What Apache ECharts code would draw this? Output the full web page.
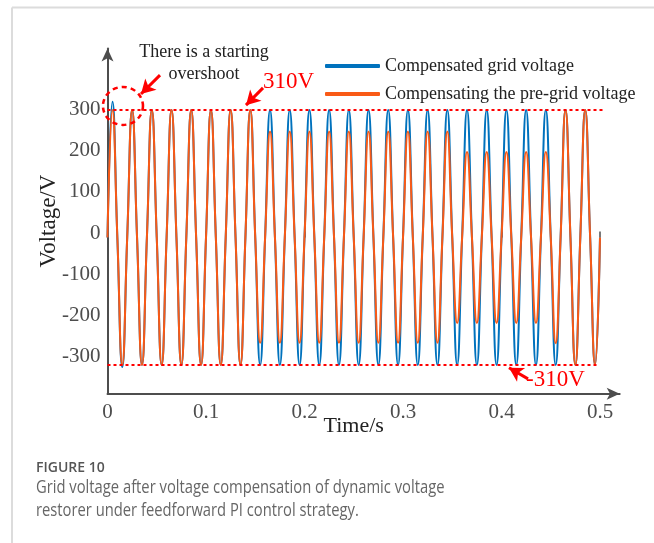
<!DOCTYPE html>
<html>
<head>
<meta charset="utf-8">
<script src="https://cdn.jsdelivr.net/npm/echarts@6/dist/echarts.min.js"></script>
<style>
  html, body { margin: 0; padding: 0; background: #fff; }
  #main { width: 654px; height: 543px; }
</style>
</head>
<body>
<div id="main"></div>
<script>
// sample times in s (zero crossings and peaks of the 50 Hz wave)
var times = [
  0, 0.005, 0.01, 0.015, 0.02, 0.025, 0.03, 0.035, 0.04, 0.045, 0.05, 0.055, 0.06, 0.065, 0.07, 0.075, 0.08, 0.085, 0.09, 0.095,
  0.1, 0.105, 0.11, 0.115, 0.12, 0.125, 0.13, 0.135, 0.14, 0.145, 0.15, 0.155, 0.16, 0.165, 0.17, 0.175, 0.18, 0.185, 0.19, 0.195,
  0.2, 0.205, 0.21, 0.215, 0.22, 0.225, 0.23, 0.235, 0.24, 0.245, 0.25, 0.255, 0.26, 0.265, 0.27, 0.275, 0.28, 0.285, 0.29, 0.295,
  0.3, 0.305, 0.31, 0.315, 0.32, 0.325, 0.33, 0.335, 0.34, 0.345, 0.35, 0.355, 0.36, 0.365, 0.37, 0.375, 0.38, 0.385, 0.39, 0.395,
  0.4, 0.405, 0.41, 0.415, 0.42, 0.425, 0.43, 0.435, 0.44, 0.445, 0.45, 0.455, 0.46, 0.465, 0.47, 0.475, 0.48, 0.485, 0.49, 0.495,
  0.5
];
// compensated grid voltage (V)
var compensated = [
  0, 330, 0, -315, 0, 310, 0, -310, 0, 310, 0, -310, 0, 310, 0, -310, 0, 310, 0, -310,
  0, 310, 0, -310, 0, 310, 0, -310, 0, 310, 0, -310, 0, 310, 0, -310, 0, 310, 0, -310,
  0, 310, 0, -310, 0, 310, 0, -310, 0, 310, 0, -310, 0, 310, 0, -310, 0, 310, 0, -310,
  0, 310, 0, -310, 0, 310, 0, -310, 0, 310, 0, -310, 0, 310, 0, -310, 0, 310, 0, -310,
  0, 310, 0, -310, 0, 310, 0, -310, 0, 310, 0, -310, 0, 310, 0, -310, 0, 310, 0, -310,
  0
];
// grid voltage before compensation (V)
var preGrid = [
  0, 310, 0, -310, 0, 310, 0, -310, 0, 310, 0, -310, 0, 310, 0, -310, 0, 310, 0, -310,
  0, 310, 0, -310, 0, 310, 0, -310, 0, 310, 0, -256, 0, 258, 0, -256, 0, 258, 0, -256,
  0, 258, 0, -256, 0, 258, 0, -256, 0, 258, 0, -256, 0, 258, 0, -256, 0, 258, 0, -256,
  0, 258, 0, -256, 0, 258, 0, -256, 0, 258, 0, -208, 0, 208, 0, -208, 0, 208, 0, -208,
  0, 208, 0, -208, 0, 208, 0, -208, 0, 208, 0, -257, 0, 310, 0, -310, 0, 310, 0, -310,
  0
];
var names = ['Compensated grid voltage', 'Compensating the pre-grid voltage'];
var xTicks = [0, 0.1, 0.2, 0.3, 0.4, 0.5];
var yTicks = [-300, -200, -100, 0, 100, 200, 300];

var serif = 'Liberation Serif';
var myChart = echarts.init(document.getElementById('main'));

function pairs(vals) {
  return times.map(function (t, i) { return [t, vals[i]]; });
}

var option = {
  animation: false,
  backgroundColor: '#fff',
  grid: [
    { left: 107.5, right: 34.3, top: 48.4, bottom: 149.3 },
    { left: 107.5, right: 54, top: 48.4, bottom: 149.3 }
  ],
  legend: [
    {
      data: [names[0]], left: 320, top: 52, itemWidth: 55, itemHeight: 4, icon: 'roundRect',
      textStyle: { fontFamily: serif, fontSize: 18, color: '#222' }
    },
    {
      data: [names[1]], left: 320, top: 80, itemWidth: 55, itemHeight: 4, icon: 'roundRect',
      textStyle: { fontFamily: serif, fontSize: 18, color: '#222' }
    }
  ],
  xAxis: [
    {
      gridIndex: 0, type: 'value', min: 0, max: 0.52,
      axisLine: { onZero: false, symbol: ['none', 'arrow'], symbolSize: [9, 13], lineStyle: { color: '#4d4d4d', width: 2 } },
      axisTick: { show: false }, axisLabel: { show: false }, splitLine: { show: false }
    },
    {
      gridIndex: 1, type: 'value', min: xTicks[0], max: xTicks[xTicks.length - 1], interval: 0.1,
      axisLine: { show: false },
      axisTick: { inside: true, length: 6, lineStyle: { color: '#4d4d4d', width: 1.5 } },
      axisLabel: { margin: 8, fontFamily: serif, fontSize: 21, color: '#4d4d4d' },
      splitLine: { show: false },
      name: 'Time/s', nameLocation: 'middle', nameGap: 22, nameMoveOverlap: false,
      nameTextStyle: { fontFamily: serif, fontSize: 22, color: '#222' }
    }
  ],
  yAxis: [
    {
      gridIndex: 0, type: 'value', min: -380, max: 460, interval: 20,
      axisLine: { show: true, onZero: false, symbol: ['none', 'arrow'], symbolSize: [9, 13], lineStyle: { color: '#4d4d4d', width: 2 } },
      axisTick: { show: false },
      axisLabel: {
        margin: 7, fontFamily: serif, fontSize: 21, color: '#4d4d4d', verticalAlign: 'bottom', lineHeight: 9,
        formatter: function (v) { return yTicks.indexOf(v) >= 0 ? String(v) : ''; }
      },
      splitLine: { show: false },
      name: 'Voltage/V', nameLocation: 'middle', nameGap: 47, nameMoveOverlap: false,
      nameTextStyle: { fontFamily: serif, fontSize: 23, color: '#222' }
    },
    { gridIndex: 1, type: 'value', min: -380, max: 460, show: false, splitLine: { show: false } }
  ],
  series: [
    {
      name: names[0], type: 'line', xAxisIndex: 0, yAxisIndex: 0,
      data: pairs(compensated), smooth: true, showSymbol: false, clip: false,
      color: '#0072BD', lineStyle: { width: 2 },
      markLine: {
        silent: true, symbol: ['none', 'none'], label: { show: false },
        lineStyle: { color: '#ff0000', type: [3, 3], width: 2 },
        data: [
          [{ coord: [0, 310] }, { coord: [0.503, 310] }],
          [{ coord: [0, -310] }, { coord: [0.498, -310] }]
        ]
      }
    },
    {
      name: names[1], type: 'line', xAxisIndex: 0, yAxisIndex: 0,
      data: pairs(preGrid), smooth: true, showSymbol: false, clip: false,
      color: '#F95A16', lineStyle: { width: 2 },
      markLine: {
        silent: true, symbol: ['none', 'arrow'], symbolSize: [12, 14], label: { show: false },
        lineStyle: { color: '#ff0000', type: 'solid', width: 3 },
        data: [
          [{ coord: [0.0533, 395] }, { coord: [0.034, 349] }],
          [{ coord: [0.1579, 364] }, { coord: [0.1406, 322] }],
          [{ coord: [0.4269, -344] }, { coord: [0.4076, -317] }]
        ]
      },
      markPoint: {
        silent: true, symbol: 'circle', symbolSize: [40, 38], label: { show: false },
        itemStyle: { color: 'rgba(0,0,0,0)', borderColor: '#ff0000', borderWidth: 2.5, borderType: [5, 4] },
        data: [{ coord: [0.0157, 320] }]
      }
    }
  ],
  graphic: [
    { type: 'line', shape: { x1: 12, y1: 7.5, x2: 654, y2: 7.5 }, style: { stroke: '#dcdcdc', lineWidth: 2 }, silent: true },
    { type: 'line', shape: { x1: 12, y1: 7.5, x2: 12, y2: 543 }, style: { stroke: '#dcdcdc', lineWidth: 2 }, silent: true },
    {
      type: 'text', x: 204, y: 63, silent: true,
      style: { text: 'There is a starting\novershoot', fontFamily: serif, fontSize: 18, lineHeight: 22, fill: '#222', textAlign: 'center', textVerticalAlign: 'middle' }
    },
    {
      type: 'text', x: 263, y: 82, silent: true,
      style: { text: '310V', fontFamily: serif, fontSize: 23, fill: '#ff0000', textAlign: 'left', textVerticalAlign: 'middle' }
    },
    {
      type: 'text', x: 526, y: 380, silent: true,
      style: { text: '-310V', fontFamily: serif, fontSize: 23, fill: '#ff0000', textAlign: 'left', textVerticalAlign: 'middle' }
    },
    {
      type: 'text', x: 36, y: 468, silent: true,
      style: { text: 'FIGURE 10', fontFamily: 'Open Sans', fontWeight: 600, fontSize: 14, fill: '#555', textAlign: 'left', textVerticalAlign: 'middle' }
    },
    {
      type: 'text', x: 36, y: 488, scaleX: 0.82, silent: true,
      style: { text: 'Grid voltage after voltage compensation of dynamic voltage', fontFamily: 'Open Sans', fontSize: 18, fill: '#666', textAlign: 'left', textVerticalAlign: 'middle' }
    },
    {
      type: 'text', x: 36, y: 511, scaleX: 0.82, silent: true,
      style: { text: 'restorer under feedforward PI control strategy.', fontFamily: 'Open Sans', fontSize: 18, fill: '#666', textAlign: 'left', textVerticalAlign: 'middle' }
    }
  ]
};

myChart.setOption(option);
</script>
</body>
</html>
